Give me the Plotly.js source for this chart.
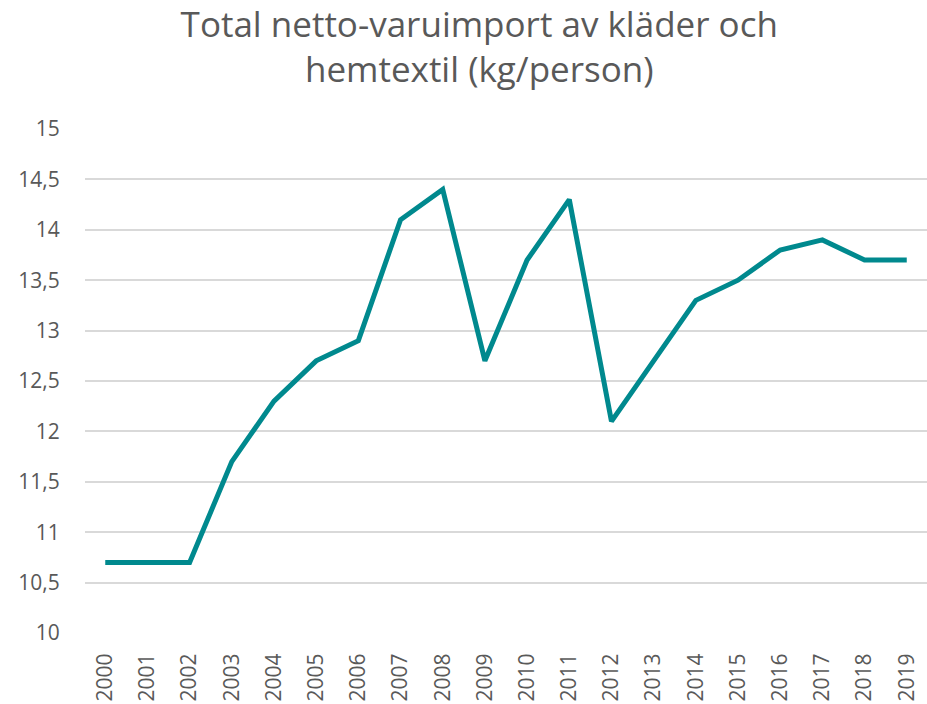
<!DOCTYPE html>
<html>
<head>
<meta charset="utf-8">
<script src="https://cdn.plot.ly/plotly-3.0.1.min.js"></script>
<style>html,body{margin:0;padding:0;background:#fff;}#chart{width:927px;height:704px;}</style>
</head>
<body>
<div id="chart"></div>
<script>
const years = ["2000","2001","2002","2003","2004","2005","2006","2007","2008","2009","2010","2011","2012","2013","2014","2015","2016","2017","2018","2019"];
const kgPerPerson = [10.7,10.7,10.7,11.7,12.3,12.7,12.9,14.1,14.4,12.7,13.7,14.3,12.1,12.7,13.3,13.5,13.8,13.9,13.7,13.7];
const titleText = "Total netto-varuimport av kläder och<br>hemtextil (kg/person)";

const trace = {
  x: years, y: kgPerPerson, type: "scatter", mode: "lines",
  line: {color: "#00898E", width: 5}, hoverinfo: "skip"
};
const layout = {
  width: 927, height: 704,
  margin: {l: 85, r: 0, t: 129, b: 71},
  paper_bgcolor: "#ffffff", plot_bgcolor: "#ffffff",
  separators: ",.",
  font: {family: "Open Sans, Noto Sans, sans-serif", color: "#595959"},
  title: {text: titleText, x: 0.517, xref: "container", xanchor: "center", y: 0.948, yanchor: "middle", yref: "container",
          font: {size: 35, color: "#595959", family: "Open Sans, Noto Sans, sans-serif"}},
  showlegend: false,
  xaxis: {type: "category", range: [-0.48, 19.48], tickangle: -90, tickfont: {size: 21, color: "#595959"},
          showgrid: false, showline: false, zeroline: false,
          ticks: "outside", ticklen: 11, tickcolor: "rgba(0,0,0,0)"},
  yaxis: {range: [10, 15], dtick: 0.5, tick0: 10, tickfont: {size: 21, color: "#595959"},
          showgrid: true, gridcolor: "#d9d9d9", gridwidth: 2, zeroline: false, showline: false,
          ticks: "outside", ticklen: 20, tickcolor: "rgba(0,0,0,0)"}
};
Plotly.newPlot("chart", [trace], layout, {displayModeBar: false, staticPlot: true});
</script>
</body>
</html>
